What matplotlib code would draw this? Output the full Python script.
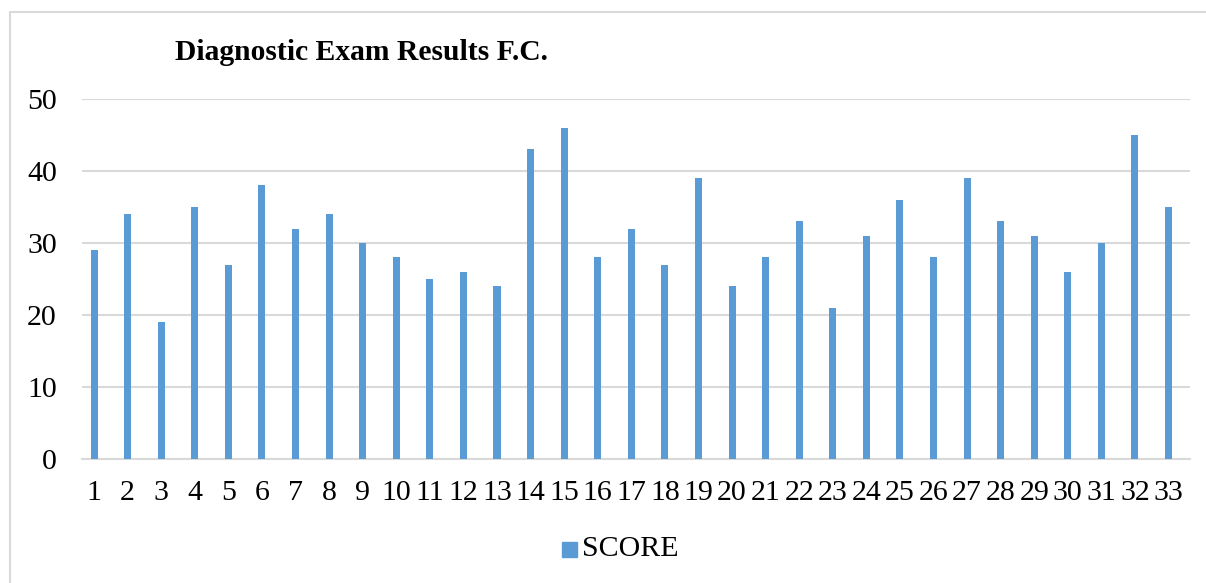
import matplotlib.pyplot as plt
from matplotlib.patches import Rectangle

# exam scores per student
students = [str(i) for i in range(1, 34)]
scores = [29, 34, 19, 35, 27, 38, 32, 34, 30, 28, 25, 26, 24, 43, 46, 28, 32,
          27, 39, 24, 28, 33, 21, 31, 36, 28, 39, 33, 31, 26, 30, 45, 35]
y_ticks = [0, 10, 20, 30, 40, 50]

W, H = 1206, 583
bar_color = "#5B9BD5"
grid_color = "#D9D9D9"

plt.rcParams["font.family"] = ["Liberation Serif", "DejaVu Serif"]

fig = plt.figure(figsize=(W / 100, H / 100), dpi=100)

# plot area in pixels: x 82..1190, y 99..459
ax = fig.add_axes([82 / W, 1 - 459 / H, (1190 - 82) / W, (459 - 99) / H])

x = list(range(len(students)))
ax.bar(x, scores, width=0.21, color=bar_color, zorder=3)

ax.set_ylim(0, 50)
ax.set_xlim(-0.36, 32.64)
ax.set_yticks(y_ticks)
ax.set_xticks(x)
ax.set_xticklabels(students)
ax.grid(axis="y", color=grid_color, linewidth=1.5, zorder=0)
for s in ["top", "right", "left"]:
    ax.spines[s].set_visible(False)
ax.spines["bottom"].set_color(grid_color)
ax.spines["bottom"].set_linewidth(1.5)
ax.tick_params(axis="both", length=0, labelsize=21.5, colors="black")
ax.tick_params(axis="y", pad=18)
ax.tick_params(axis="x", pad=15)

# title
fig.text(175 / W, 1 - 52 / H, "Diagnostic Exam Results F.C.", fontsize=21.3,
         fontweight="bold", va="center", ha="left")

# legend
fig.patches.append(Rectangle((562 / W, 1 - 557 / H), 15 / W, 15 / H,
                             transform=fig.transFigure, color=bar_color))
fig.text(582 / W, 1 - 549 / H, "SCORE", fontsize=21.5, va="center", ha="left")

# outer chart border
fig.lines.append(plt.Line2D([10 / W, 10 / W, 1.0], [0, 1 - 12 / H, 1 - 12 / H],
                            transform=fig.transFigure, color=grid_color,
                            linewidth=1.5))

fig.savefig("out.png", dpi=100)
